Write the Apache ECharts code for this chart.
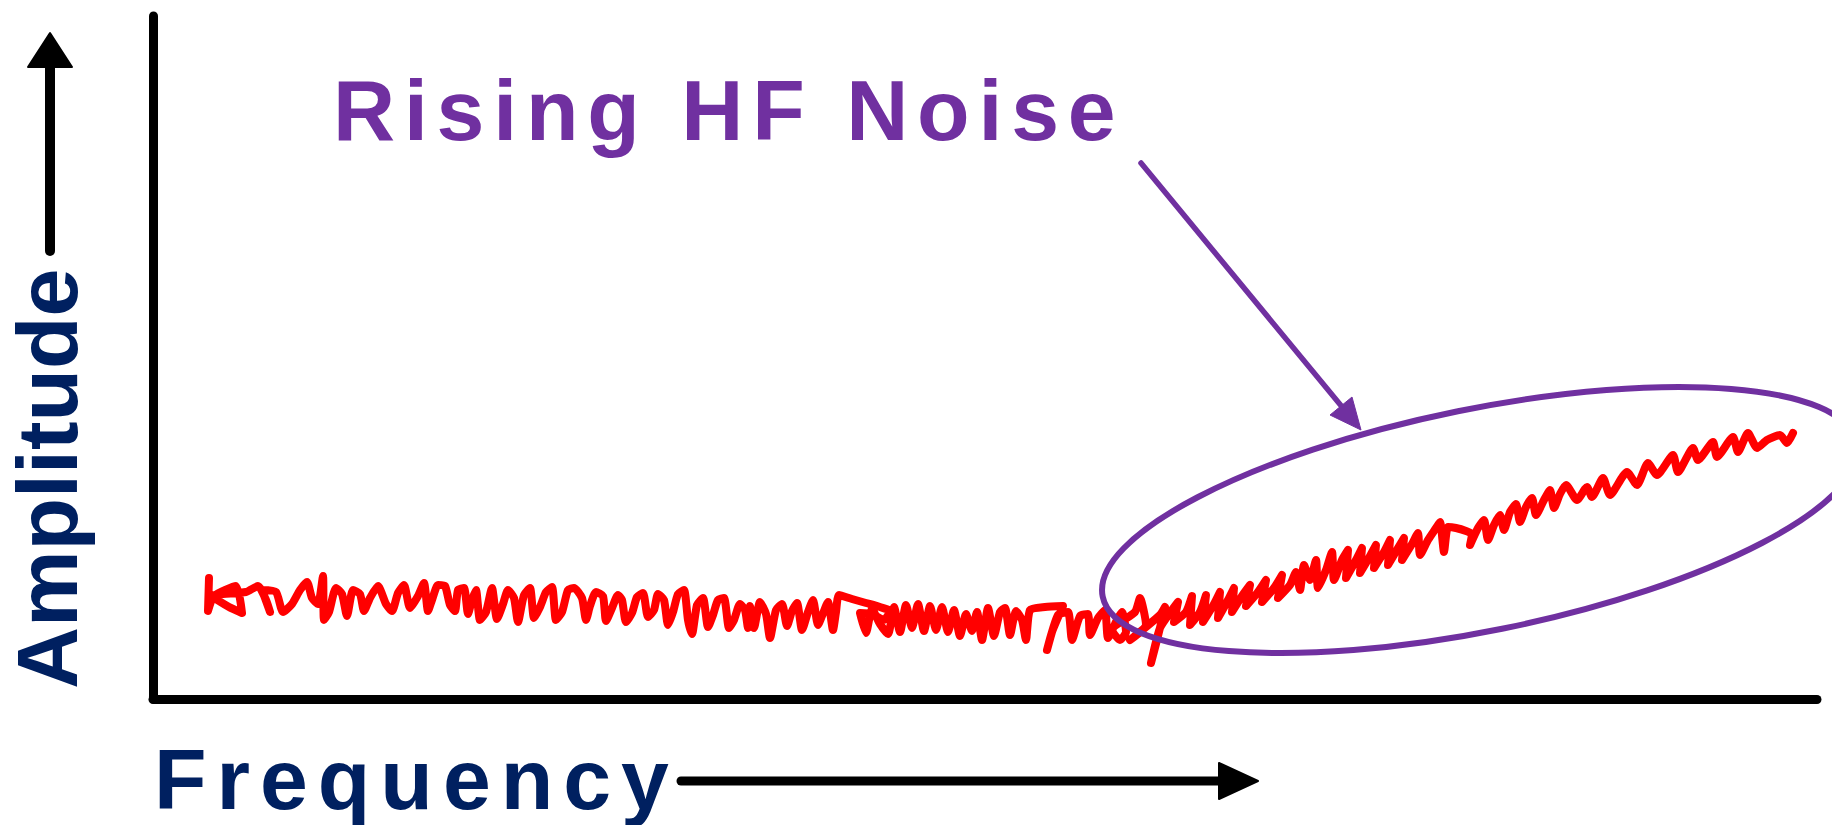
<!DOCTYPE html>
<html>
<head>
<meta charset="utf-8">
<title>Rising HF Noise</title>
<script src="https://cdn.jsdelivr.net/npm/echarts@6/dist/echarts.min.js"></script>
<style>
  html, body { margin: 0; padding: 0; background: #fff; }
  #chart { width: 1832px; height: 825px; }
</style>
</head>
<body>
<div id="chart"></div>
<script>
// axis ranges (arbitrary units, the slide shows no ticks)
var freqRange = [0, 1664];
var ampRange = [0, 683];

// red scribble, [frequency, amplitude]
var flatNoise = [
  [56,121],[55,88],[61,103],[83,113],[89,86],[76,92],[59,103],[93,107],[105,113],[113,99],
  [117,87],[109,109],[123,107],[130,87],[139,95],[147,109],[154,117],[159,101],[165,95],[170,123],
  [171,79],[176,87],[183,111],[189,105],[194,83],[200,109],[207,105],[211,88],[217,101],[225,113],
  [233,95],[239,88],[245,106],[251,114],[257,91],[265,103],[271,116],[275,88],[279,99],[285,114],
  [292,113],[297,94],[302,88],[305,109],[311,111],[315,85],[319,99],
  [323,109],[327,79],[333,87],[339,111],[344,80],[350,95],[355,109],[361,101],[365,77],[371,104],
  [377,111],[381,81],[387,92],[393,107],[399,112],[403,79],[409,87],[415,109],[421,111],[429,101],
  [433,79],[437,93],[443,107],[450,103],[453,78],[459,91],[465,104],[469,99],[473,77],[479,86],
  [484,102],[490,106],[495,82],[501,89],[505,105],[511,99],[515,74],[520,87],[525,105],[531,109],
  [535,79],[539,65],[544,94],[550,101],[555,72],[560,84],[565,99],[571,101],[576,71],[581,79],
  [587,95],[592,89],[595,71],
  [597,93],[601,71],[607,97],[613,85],[617,61],[623,89],[629,95],[634,73],[639,88],[644,96],
  [649,69],[655,87],[660,99],[665,74],[669,83],[675,97],[680,69],[683,87],[686,104],[699,100],
  [713,96],[727,92],[737,88],[731,79],[719,85],[707,86],[713,66],[719,90],[727,75],[735,65],
  [741,92],[747,67],[753,94],[759,71],[765,95],[771,68],[777,93],[783,69],[789,92],[795,67],
  [801,89],[807,63],[813,85],[819,68],[824,87],[829,59],[835,91],[841,63],[847,87],[852,91],
  [857,64],[863,88],[869,79],[873,59],
  [877,89],[892,92],[910,93],[899,67],[894,49],[905,84],[915,87],[919,59],[927,83],[935,85],
  [937,64],[945,81],[952,89],[955,61],[963,77],[969,87],[973,67],[967,59],[959,69]
];

var hfNoise = [
  [982,87],[987,101],[993,74],[977,59],[1007,84],[1012,92],[1004,59],[998,36],[1007,71],[1019,89],
  [1025,97],[1021,77],[1033,87],[1039,103],[1037,74],[1047,87],[1053,104],[1050,77],[1061,95],[1067,107],
  [1065,81],[1075,99],[1081,111],[1079,87],[1089,103],[1097,114],[1093,93],[1105,107],[1113,119],[1109,97],
  [1121,111],[1129,124],[1125,101],[1137,114],[1143,127],
  [1147,109],[1151,134],[1157,119],[1163,139],[1165,111],[1173,129],[1179,147],[1181,119],[1189,139],[1195,149],
  [1193,121],[1203,139],[1209,151],[1207,126],[1217,143],[1223,154],[1221,131],[1231,147],[1237,159],[1235,134],
  [1245,151],[1251,161],[1249,139],[1259,155],[1265,166],[1267,144],[1275,159],[1283,171],[1287,177],[1291,147],
  [1295,172],[1303,171],[1313,168],[1319,165],[1317,154],[1325,171],[1331,179],[1335,159],[1341,174],[1347,184],
  [1351,169],[1357,187],[1363,195],[1367,177],[1373,192],[1379,201],[1383,184],[1391,199],[1397,209],[1401,191],
  [1407,205],[1413,214],
  [1424,199],[1434,212],[1439,202],[1450,221],[1457,204],[1474,227],[1484,214],[1495,236],[1504,224],[1520,244],
  [1525,227],[1540,251],[1545,239],[1560,257],[1564,242],[1580,262],[1585,247],[1595,266],[1604,251],[1614,259],
  [1627,264],[1634,256],[1640,266]
];

var titleText = 'Rising HF Noise';
var xName = 'Frequency';
var yName = 'Amplitude';

var navy = '#002060';
var purple = '#7030A0';
var font = '"Liberation Sans", Arial, Helvetica, sans-serif';

var chart = echarts.init(document.getElementById('chart'), null, { renderer: 'svg' });

function txt(str, x, y, color, rot) {
  return {
    type: 'text', x: x, y: y, rotation: rot || 0, z: 120,
    style: {
      text: str, font: 'bold 86px ' + font, fill: color,
      textAlign: 'left', textVerticalAlign: 'middle',
      align: 'left', verticalAlign: 'middle'
    }
  };
}

var option = {
  backgroundColor: '#ffffff',
  animation: false,
  grid: { left: 153, right: 15, top: 16, bottom: 126, outerBoundsMode: 'none' },
  xAxis: {
    type: 'value', min: freqRange[0], max: freqRange[1],
    axisLine: { show: true, lineStyle: { color: '#000', width: 9, cap: 'round' } },
    axisTick: { show: false }, axisLabel: { show: false }, splitLine: { show: false }
  },
  yAxis: {
    type: 'value', min: ampRange[0], max: ampRange[1],
    axisLine: { show: true, lineStyle: { color: '#000', width: 9, cap: 'round' } },
    axisTick: { show: false }, axisLabel: { show: false }, splitLine: { show: false }
  },
  series: [{
    type: 'line',
    data: flatNoise.concat(hfNoise),
    symbol: 'none',
    smooth: 0.2,
    lineStyle: { color: '#ff0000', width: 8, cap: 'round', join: 'round' },
    z: 3
  }],
  graphic: [
    // amplitude arrow
    { type: 'line', shape: { x1: 50, y1: 251, x2: 50, y2: 64 },
      style: { stroke: '#000', lineWidth: 10, lineCap: 'round' } },
    { type: 'polygon', shape: { points: [[50, 33], [28, 67], [72, 67]] },
      style: { fill: '#000', stroke: '#000', lineWidth: 2, lineJoin: 'round' } },
    // frequency arrow
    { type: 'line', shape: { x1: 681, y1: 781, x2: 1225, y2: 781 },
      style: { stroke: '#000', lineWidth: 9, lineCap: 'round' } },
    { type: 'polygon', shape: { points: [[1258, 781], [1219, 763], [1219, 799]] },
      style: { fill: '#000', stroke: '#000', lineWidth: 2, lineJoin: 'round' } },
    // callout
    { type: 'line', z: 110, shape: { x1: 1141, y1: 163, x2: 1343, y2: 408 },
      style: { stroke: purple, lineWidth: 5.5, lineCap: 'round' } },
    { type: 'polygon', z: 110, shape: { points: [[1361, 430], [1330, 415], [1352, 397]] },
      style: { fill: purple, stroke: purple, lineWidth: 1 } },
    { type: 'ellipse', z: 110, x: 1480, y: 520, rotation: 0.2,
      shape: { cx: 0, cy: 0, rx: 385, ry: 111 },
      style: { fill: 'none', stroke: purple, lineWidth: 6 } },
    txt(yName, 47, 689, navy, Math.PI / 2),
    txt(xName, 154, 779, navy),
    txt(titleText, 333, 110, purple)
  ]
};

chart.setOption(option);

// the slide spaces its letters out
function spaceLetters() {
  var nodes = document.querySelectorAll('#chart text');
  for (var i = 0; i < nodes.length; i++) {
    var s = nodes[i].textContent;
    if (s === titleText) nodes[i].setAttribute('letter-spacing', '8.8');
    if (s === xName) nodes[i].setAttribute('letter-spacing', '10');
  }
}
spaceLetters();
chart.on('finished', spaceLetters);
</script>
</body>
</html>
